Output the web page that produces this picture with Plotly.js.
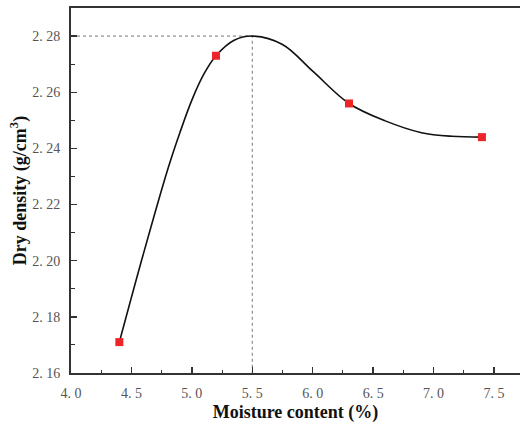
<!DOCTYPE html>
<html>
<head>
<meta charset="utf-8">
<script src="https://cdn.plot.ly/plotly-3.0.1.min.js"></script>
<style>html,body{margin:0;padding:0;background:#fff;}#chart{width:520px;height:423px;}</style>
</head>
<body>
<div id="chart"></div>
<script>
// measured data points
const moisture = [4.4, 5.2, 6.3, 7.4];
const density = [2.171, 2.273, 2.256, 2.244];
// fitted curve
const curveX = [4.40, 4.60, 4.80, 4.90, 5.00, 5.10, 5.20, 5.35, 5.50, 5.75, 6.00, 6.30, 6.60, 6.90, 7.15, 7.40];
const curveY = [2.171, 2.2026, 2.2325, 2.2455, 2.2572, 2.2665, 2.273, 2.2785, 2.280, 2.2770, 2.2675, 2.256, 2.2498, 2.2456, 2.2443, 2.244];
// optimum point
const optX = [5.5];
const optY = [2.28];
const xTicks = [4.0, 4.5, 5.0, 5.5, 6.0, 6.5, 7.0, 7.5];
const xTickText = ['4. 0', '4. 5', '5. 0', '5. 5', '6. 0', '6. 5', '7. 0', '7. 5'];
const yTicks = [2.16, 2.18, 2.20, 2.22, 2.24, 2.26, 2.28];
const yTickText = ['2. 16', '2. 18', '2. 20', '2. 22', '2. 24', '2. 26', '2. 28'];

const xMin = 4.0, xMax = 7.715, yMin = 2.16, yMax = 2.29;

const traces = [
  {x: [xMin, optX[0], optX[0]], y: [optY[0], optY[0], yMin], mode: 'lines',
   line: {color: '#555', width: 0.8, dash: 'dot'}, hoverinfo: 'skip', showlegend: false},
  {x: curveX, y: curveY, mode: 'lines', line: {color: '#111', width: 1.6, shape: 'spline', smoothing: 1}, showlegend: false},
  {x: moisture, y: density, mode: 'markers', marker: {symbol: 'square', size: 8, color: '#ee2528'}, showlegend: false}
];

const tickFont = {family: 'Liberation Serif, DejaVu Serif, serif', size: 14, color: '#555'};
const titleFont = {family: 'Liberation Serif, DejaVu Serif, serif', size: 18, color: '#111', weight: 'bold'};

const layout = {
  width: 520, height: 423,
  margin: {l: 71, r: 0, t: 8, b: 50},
  paper_bgcolor: '#fff', plot_bgcolor: '#fff',
  xaxis: {
    range: [xMin, xMax], tickvals: xTicks, ticktext: xTickText,
    ticks: 'inside', ticklen: 6, tickwidth: 1.3, tickcolor: '#333',
    minor: {dtick: 0.25, tick0: 4.0, ticks: 'inside', ticklen: 3.5, tickwidth: 1, tickcolor: '#333'},
    showline: true, linecolor: '#333', linewidth: 2, mirror: true,
    showgrid: false, zeroline: false, tickfont: tickFont, ticklabelstandoff: 6,
    title: {text: '<b>Moisture content (%)</b>', font: titleFont, standoff: 6}
  },
  yaxis: {
    range: [yMin, yMax], tickvals: yTicks, ticktext: yTickText,
    ticks: 'inside', ticklen: 6, tickwidth: 1.3, tickcolor: '#333',
    minor: {dtick: 0.01, tick0: 2.16, ticks: 'inside', ticklen: 3.5, tickwidth: 1, tickcolor: '#333'},
    showline: true, linecolor: '#333', linewidth: 2,
    showgrid: false, zeroline: false, tickfont: tickFont, ticklabelstandoff: 6,
    title: {text: '<b>Dry density (g/cm<sup>3</sup>)</b>', font: titleFont, standoff: 1}
  }
};

Plotly.newPlot('chart', traces, layout, {displayModeBar: false, staticPlot: true});
</script>
</body>
</html>
